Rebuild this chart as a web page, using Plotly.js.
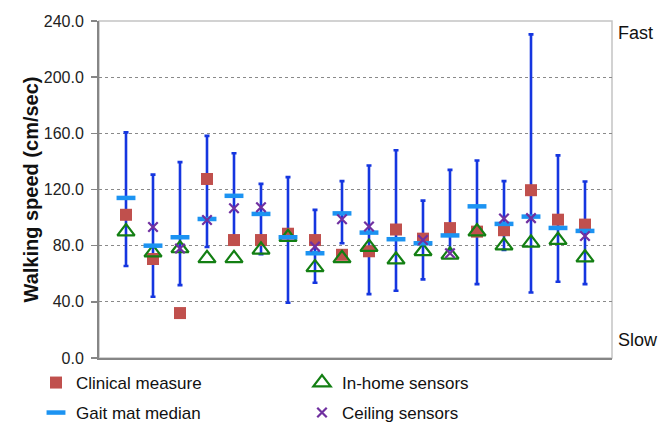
<!DOCTYPE html>
<html>
<head>
<meta charset="utf-8">
<script src="https://cdn.plot.ly/plotly-3.0.1.min.js"></script>
<style>html,body{margin:0;padding:0;background:#fff;}#chart{width:669px;height:425px;}</style>
</head>
<body>
<div id="chart"></div>
<script>
// Subject index (18 subjects)
var subjects = [1,2,3,4,5,6,7,8,9,10,11,12,13,14,15,16,17,18];
// Clinical measure (cm/sec)
var clinical = [102, 70.5, 32, 127.5, 84, 84, 88.5, 84, 73.5, 76, 91.5, 85, 92.5, 90, 91, 119.5, 98.5, 95];
// In-home sensors
var inHome = [90, 75, 78, 71, 71, 77, 86, 64.5, 71, 79, 70, 76, 73.5, 90, 80, 82, 84, 71.5];
// Gait mat median, min, max
var gaitMedian = [114, 80, 86, 99, 115.5, 102.6, 86, 74.6, 103, 89.3, 84.6, 81.7, 87.3, 108, 95.5, 100.7, 92.6, 90.5];
var gaitMin = [65.5, 43.6, 51.9, 79, 83, 74, 39.3, 53.6, 81.7, 45.5, 47.9, 56, 77, 52.6, 77, 46.7, 54.3, 52.6];
var gaitMax = [160.7, 130.6, 139.5, 158.2, 145.8, 124, 128.8, 105.5, 126, 137.1, 147.9, 112.1, 134, 140.7, 126, 230.5, 144.3, 125.7];
// Ceiling sensors (null = no measurement)
var ceiling = [null, 93.3, 78, 98.3, 106.7, 107.4, null, 79.3, 98.8, 93.6, null, 84, 74.6, null, 99.3, 99.6, null, 86.9];
var yTicks = [0, 40, 80, 120, 160, 200, 240];

var FONT = 'Liberation Sans, Arial, sans-serif';
var errPlus = gaitMax.map(function(v, i){ return v - gaitMedian[i]; });
var errMinus = gaitMin.map(function(v, i){ return gaitMedian[i] - v; });

var traces = [
  { // range bars (gait mat min-max)
    x: subjects, y: gaitMedian, type: 'scatter', mode: 'markers',
    marker: {opacity: 0, size: 2}, showlegend: false, hoverinfo: 'skip',
    error_y: {type: 'data', symmetric: false, array: errPlus, arrayminus: errMinus,
              color: '#1536E0', thickness: 2.6, width: 2.5}
  },
  {
    name: 'Clinical measure', x: subjects, y: clinical, type: 'scatter', mode: 'markers',
    marker: {symbol: 'square', size: 12, color: '#C0504D'}, legend: 'legend'
  },
  {
    name: 'In-home sensors', x: subjects, y: inHome, type: 'scatter', mode: 'markers',
    marker: {symbol: 'triangle-up-open', size: 15, color: '#137F13', line: {width: 2.2, color: '#137F13'}}, legend: 'legend2'
  },
  {
    name: 'Gait mat median', x: subjects, y: gaitMedian, type: 'scatter', mode: 'markers',
    marker: {symbol: 'line-ew', size: 13.5, color: '#1C93F2', line: {width: 4.5, color: '#1C93F2'}}, legend: 'legend3'
  },
  {
    name: 'Ceiling sensors', x: subjects, y: ceiling, type: 'scatter', mode: 'markers',
    marker: {symbol: 'x-thin-open', size: 9.5, color: '#7030A0', line: {width: 2.2, color: '#7030A0'}}, legend: 'legend4'
  }
];

function leg(x, y) {
  return {
    orientation: 'h', xref: 'container', yref: 'container', xanchor: 'left', yanchor: 'middle',
    x: x, y: y, bgcolor: 'rgba(0,0,0,0)', itemclick: false, itemdoubleclick: false,
    font: {family: FONT, size: 17, color: '#111'}
  };
}
// text starts: column 1 at ~77px, column 2 at ~343px; rows centred at ~383px and ~412px
var col1 = 36 / 669, col2 = 302 / 669, row1 = 1 - 383 / 425, row2 = 1 - 413 / 425;

var layout = {
  width: 669, height: 425,
  margin: {l: 99, r: 57, t: 21, b: 67, autoexpand: false},
  paper_bgcolor: '#fff', plot_bgcolor: '#fff',
  font: {family: FONT, color: '#222'},
  xaxis: {range: [0, 19], showgrid: false, zeroline: false, showticklabels: false, ticks: '',
          showline: true, linecolor: '#868686', linewidth: 2, fixedrange: true},
  yaxis: {range: [0, 240], tickvals: yTicks, tickformat: '.1f', showgrid: true, gridcolor: '#8a8a8a',
          griddash: 'dot', gridwidth: 1, zeroline: false, showline: true, linecolor: '#868686', linewidth: 2,
          ticks: 'outside', ticklen: 6, tickcolor: '#868686', tickwidth: 1.5, ticklabelstandoff: 4,
          tickfont: {family: FONT, size: 16, color: '#222'},
          title: {text: 'Walking speed (cm/sec)', font: {family: FONT, size: 20, color: '#111', weight: 'bold'}}},
  shapes: [{type: 'rect', xref: 'paper', yref: 'paper', x0: 0, x1: 1, y0: 0, y1: 1,
            line: {color: '#C4C4C4', width: 1.5}, layer: 'below'}],
  annotations: [
    {text: 'Fast', xref: 'paper', yref: 'paper', x: 1.008, y: 0.964, xanchor: 'left', yanchor: 'middle',
     showarrow: false, font: {family: FONT, size: 18, color: '#111'}},
    {text: 'Slow', xref: 'paper', yref: 'paper', x: 1.008, y: 0.053, xanchor: 'left', yanchor: 'middle',
     showarrow: false, font: {family: FONT, size: 18, color: '#111'}}
  ],
  legend: leg(col1, row1),
  legend2: leg(col2, row1),
  legend3: leg(col1, row2),
  legend4: leg(col2, row2),
  showlegend: true
};

Plotly.newPlot('chart', traces, layout, {displayModeBar: false, staticPlot: true});
</script>
</body>
</html>
